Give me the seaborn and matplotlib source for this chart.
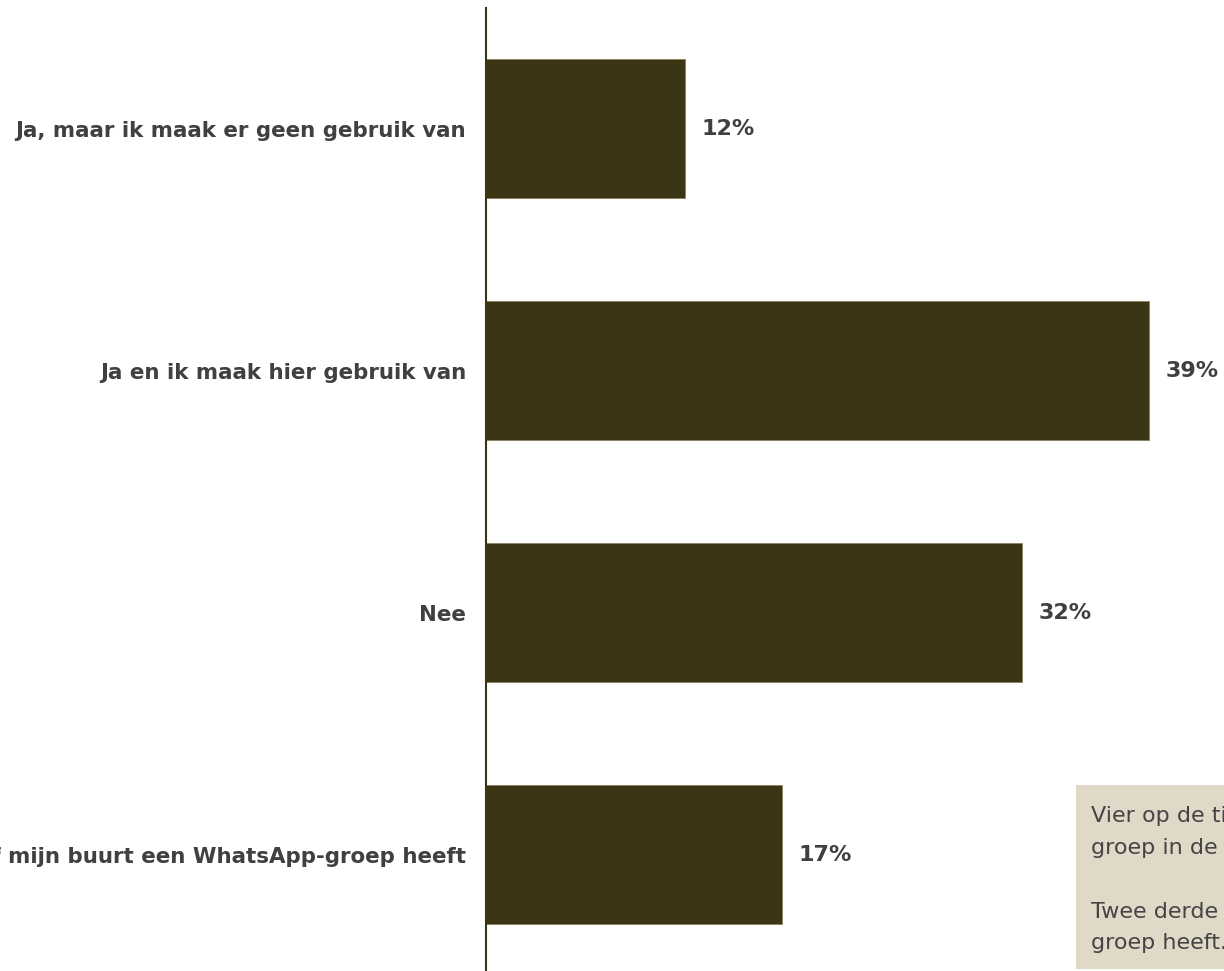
import matplotlib
matplotlib.use("Agg")
import matplotlib.pyplot as plt
import seaborn as sns
import pandas as pd
from matplotlib.patches import Rectangle

categories = [
    "Ja, maar ik maak er geen gebruik van",
    "Ja en ik maak hier gebruik van",
    "Nee",
    "Ik weet niet of mijn buurt een WhatsApp-groep heeft",
]
values = [11.7, 39.0, 31.5, 17.4]
value_labels = ["12%", "39%", "32%", "17%"]
note_lines = [
    "Vier op de tien buurtbewoners maakt gebruik van een WhatsApp-",
    "groep in de buurt.",
    "",
    "Twee derde weet of de buurt een WhatsApp-",
    "groep heeft.",
]

sns.set_style("white")
plt.rcParams['font.family'] = ['DejaVu Sans']

W, H = 1224, 971
fig = plt.figure(figsize=(W / 100, H / 100), dpi=100)
ax_left = 486 / W
ax_bottom_px = 975.5
ax = fig.add_axes([ax_left, 1 - ax_bottom_px / H, (1224 - 486) / W, (ax_bottom_px - 8) / H])

df = pd.DataFrame({"cat": categories, "val": values})
bar_color = "#3c3513"
sns.barplot(data=df, x="val", y="cat", orient="h", color=bar_color, width=0.575,
            saturation=1, ax=ax, edgecolor="#8a8060", linewidth=0.6)

px_per_pct = 17.0
ax.set_xlim(0, (1224 - 486) / px_per_pct)
ax.set_ylim(3.5, -0.5)

for i, (v, lab) in enumerate(zip(values, value_labels)):
    ax.annotate(lab, xy=(v, i), xytext=(17, 0), textcoords="offset pixels",
                ha="left", va="center", fontsize=16, fontweight="bold", color="#404040")

ax.set_xlabel("")
ax.set_ylabel("")
ax.set_xticks([])
ax.tick_params(axis="y", length=0, pad=14.4)
for t in ax.get_yticklabels():
    t.set_fontsize(15.4)
    t.set_fontweight("bold")
    t.set_color("#404040")

for s in ["top", "right", "bottom"]:
    ax.spines[s].set_visible(False)
ax.spines["left"].set_color(bar_color)
ax.spines["left"].set_linewidth(1.5)

# Note box
box_x0 = 1076 / W
box_y0 = 1 - 969 / H
box_h = (969 - 785) / H
fig.patches.append(Rectangle((box_x0, box_y0), 0.2, box_h, transform=fig.transFigure,
                             facecolor="#e0d9c8", edgecolor="none", zorder=3))
fig.text(1091 / W, 1 - 806 / H, "\n".join(note_lines), ha="left", va="top",
         fontsize=16, color="#444444", linespacing=1.74, zorder=4)

fig.savefig("out.png", dpi=100)
